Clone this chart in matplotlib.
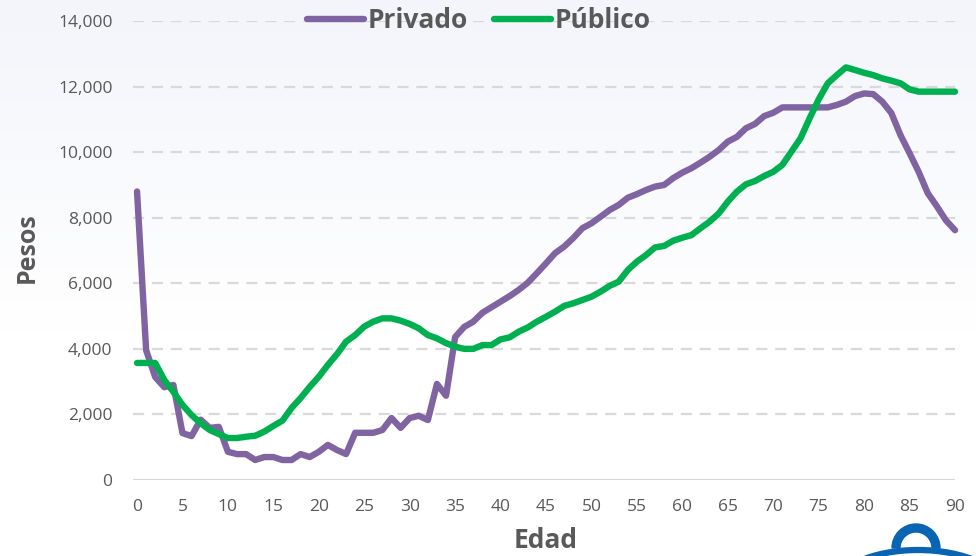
import numpy as np
import matplotlib
matplotlib.use("Agg")
import matplotlib.pyplot as plt
from matplotlib.patches import Wedge, Ellipse

ages = list(range(0, 91))
privado = [8800, 3960, 3140, 2830, 2900, 1430, 1340, 1840, 1590, 1620,
           860, 790, 790, 610, 700, 700, 610, 610, 790, 700,
           860, 1070, 915, 790, 1440, 1440, 1440, 1525, 1890, 1590,
           1890, 1960, 1830, 2930, 2570, 4360, 4670, 4830, 5100, 5270,
           5440, 5610, 5800, 6020, 6310, 6610, 6920, 7120, 7380, 7680,
           7830, 8030, 8235, 8390, 8610, 8720, 8845, 8950, 9000, 9210,
           9375, 9510, 9680, 9860, 10065, 10320, 10465, 10730, 10860, 11100,
           11200, 11365, 11365, 11365, 11365, 11365, 11365, 11440, 11540, 11710,
           11790, 11770, 11540, 11190, 10520, 9970, 9400, 8750, 8350, 7920,
           7620]
publico = [3570, 3570, 3570, 3050, 2690, 2290, 1980, 1730, 1525, 1400,
           1280, 1280, 1320, 1350, 1475, 1650, 1810, 2195, 2500, 2840,
           3150, 3510, 3840, 4220, 4420, 4680, 4830, 4930, 4930, 4860,
           4760, 4625, 4420, 4320, 4175, 4065, 4000, 4000, 4115, 4115,
           4290, 4350, 4525, 4655, 4830, 4980, 5135, 5310, 5390, 5490,
           5590, 5745, 5920, 6050, 6405, 6660, 6860, 7095, 7140, 7300,
           7390, 7470, 7680, 7880, 8130, 8490, 8795, 9020, 9120, 9270,
           9400, 9610, 10015, 10420, 11030, 11610, 12100, 12350, 12585, 12505,
           12420, 12350, 12250, 12180, 12100, 11915, 11845, 11845, 11845, 11845,
           11845]
series_names = ["Privado", "Público"]
series_colors = ["#8064A2", "#00B050"]
y_ticks = list(range(0, 14001, 2000))
x_ticks = list(range(0, 91, 5))

plt.rcParams['font.family'] = ['Open Sans', 'DejaVu Sans']

W, H = 976, 556
fig = plt.figure(figsize=(W / 100, H / 100), dpi=100)

# background gradient (pixel coordinates)
bg = fig.add_axes([0, 0, 1, 1], zorder=-10)
grad = np.linspace(0, 1, 256).reshape(-1, 1)
top = np.array([0.953, 0.961, 0.984])
bot = np.array([1.0, 1.0, 1.0])
t = np.clip(grad / 0.6, 0, 1)
img = (top * (1 - t) + bot * t).reshape(256, 1, 3)
bg.imshow(img, aspect='auto', extent=[0, W, H, 0])
bg.set_xlim(0, W)
bg.set_ylim(H, 0)
bg.axis('off')

ax = fig.add_axes([133.4 / W, (H - 480) / H, (955 - 133.4) / W, (480 - 21) / H])
ax.patch.set_alpha(0)
ax.set_xlim(-0.4, 90)
ax.set_ylim(0, 14000)

for yv in y_ticks[1:]:
    ax.axhline(yv, color="#D9D9D9", lw=1.6, dashes=(5, 3.5), zorder=1)
ax.axhline(0, color="#D9D9D9", lw=1.6, zorder=1)

for vals, name, col in zip([privado, publico], series_names, series_colors):
    ax.plot(ages, vals, color=col, lw=4.6, label=name, solid_joinstyle='round',
            solid_capstyle='round', clip_on=False, zorder=3)

for s in ax.spines.values():
    s.set_visible(False)
ax.set_yticks(y_ticks)
ax.set_yticklabels([f"{v:,}" for v in y_ticks])
ax.set_xticks(x_ticks)
ax.set_xticklabels([str(v) for v in x_ticks])
ax.tick_params(axis='both', length=0, labelsize=12.5, colors="#595959")
ax.tick_params(axis='y', pad=15)
ax.tick_params(axis='x', pad=14)

fig.text(34 / W, (H - 248) / H, "Pesos", rotation=90, rotation_mode='anchor',
         ha='center', va='baseline', fontsize=18, fontweight='bold', color="#595959")
fig.text(546 / W, (H - 548) / H, "Edad", ha='center', va='baseline',
         fontsize=19, fontweight='bold', color="#595959")

leg = fig.legend(loc='center', bbox_to_anchor=(479 / W, (H - 21) / H), ncol=2,
                 frameon=False, handlelength=2.15, handletextpad=0.15,
                 columnspacing=1.0, prop={'size': 19, 'weight': 'bold'})
for txt in leg.get_texts():
    txt.set_color("#595959")
for ln in leg.get_lines():
    ln.set_linewidth(4.6)
    ln.set_solid_capstyle('round')

# logo fragment bottom-right
bg.add_patch(Wedge((916, 548), 24, 180, 360, width=8, color="#0A64B4"))
bg.add_patch(Ellipse((918, 590), 170, 80, fill=False, lw=4.5, edgecolor="#0A64B4"))

fig.savefig("out.png", dpi=100)
